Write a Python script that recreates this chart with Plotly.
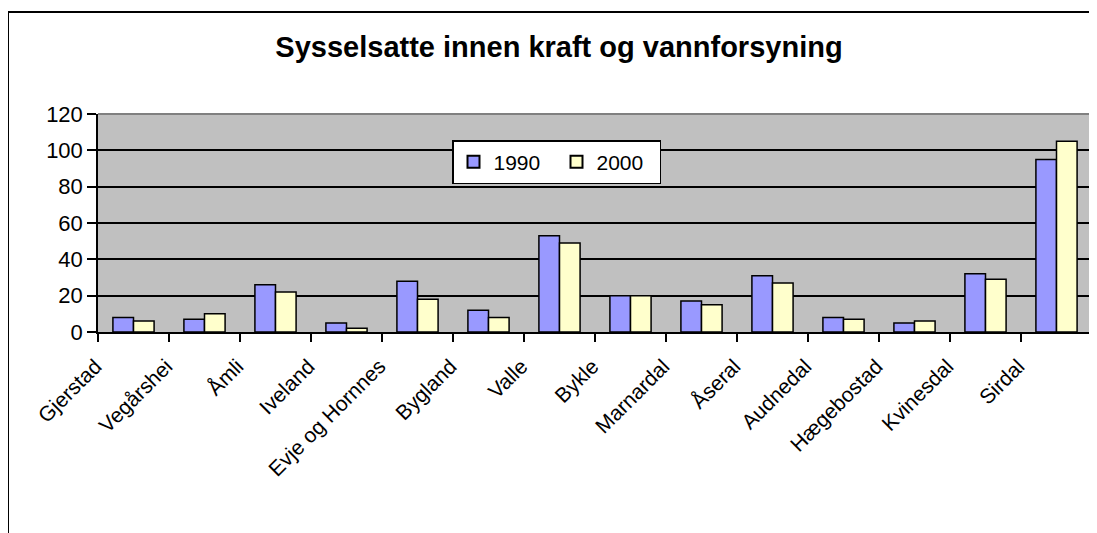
import plotly.graph_objects as go

title = "Sysselsatte innen kraft og vannforsyning"
categories = ["Gjerstad", "Vegårshei", "Åmli", "Iveland", "Evje og Hornnes", "Bygland",
              "Valle", "Bykle", "Marnardal", "Åseral", "Audnedal", "Hægebostad",
              "Kvinesdal", "Sirdal"]
values_1990 = [8, 7, 26, 5, 28, 12, 53, 20, 17, 31, 8, 5, 32, 95]
values_2000 = [6, 10, 22, 2, 18, 8, 49, 20, 15, 27, 7, 6, 29, 105]
series_names = ["1990", "2000"]
y_ticks = [0, 20, 40, 60, 80, 100, 120]

OFF = 8  # page body margin
W, H = 1097 - OFF, 533 - OFF
PL, PR, PT, PB = 98, 1092, 114, 332  # plot area in page pixels
ML = PL - OFF
MR = W - (PR - OFF)
MT = PT - OFF
MB = H - (PB - OFF)
pw = PR - PL
ph = PB - PT

def px_x(p):
    return (p - PL) / pw

def px_y(p):
    return (PB - p) / ph

fig = go.Figure()
fig.add_trace(go.Bar(x=categories, y=values_1990, name=series_names[0],
                     marker=dict(color="#9999FF", line=dict(color="black", width=1.5))))
fig.add_trace(go.Bar(x=categories, y=values_2000, name=series_names[1],
                     marker=dict(color="#FFFFCC", line=dict(color="black", width=1.5))))

fig.update_layout(
    width=W, height=H,
    margin=dict(l=ML, r=MR, t=MT, b=MB),
    paper_bgcolor="white",
    plot_bgcolor="#C0C0C0",
    barmode="group",
    bargap=0.42,
    bargroupgap=0,
    font=dict(family="Arial, Liberation Sans, sans-serif", color="black"),
    title=dict(text="<b>" + title + "</b>", xref="container", x=(559 - OFF) / W,
               xanchor="center", y=1 - (47 - OFF) / H, yanchor="middle",
               font=dict(size=29, family="Arial, Liberation Sans, sans-serif", color="black")),
    legend=dict(orientation="h", x=px_x(452), y=px_y(140), xanchor="left", yanchor="top",
                bgcolor="white", bordercolor="black", borderwidth=1.5,
                font=dict(size=21), itemsizing="constant", traceorder="normal",
                itemwidth=30, entrywidth=58, entrywidthmode="pixels"),
    showlegend=True,
)

fig.update_xaxes(
    type="category",
    tickangle=-45,
    tickson="boundaries",
    ticks="outside", ticklen=8, tickwidth=1.5, tickcolor="black",
    showline=True, linecolor="black", linewidth=1.5,
    showgrid=False,
    tickfont=dict(size=21, family="Arial, Liberation Sans, sans-serif"),
    ticklabelshift=-38,
    ticklabelstandoff=12,
)
fig.update_yaxes(
    range=[0, 120],
    tickvals=y_ticks,
    ticks="outside", ticklen=9, tickwidth=1.5, tickcolor="black",
    showline=True, linecolor="black", linewidth=1.5,
    showgrid=True, gridcolor="black", gridwidth=1.5,
    zeroline=False,
    tickfont=dict(size=22),
)

# plot-area top/right border (grey)
fig.add_shape(type="line", xref="paper", yref="paper", x0=0, x1=1, y0=1, y1=1,
              line=dict(color="#808080", width=2))
fig.add_shape(type="line", xref="paper", yref="paper", x0=1, x1=1, y0=0, y1=1,
              line=dict(color="#808080", width=2))
# outer chart frame
fig.add_shape(type="rect", xref="paper", yref="paper",
              x0=px_x(8), x1=px_x(1200), y0=px_y(700), y1=px_y(12),
              line=dict(color="black", width=2), fillcolor="rgba(0,0,0,0)")

fig.write_html("out.html")
